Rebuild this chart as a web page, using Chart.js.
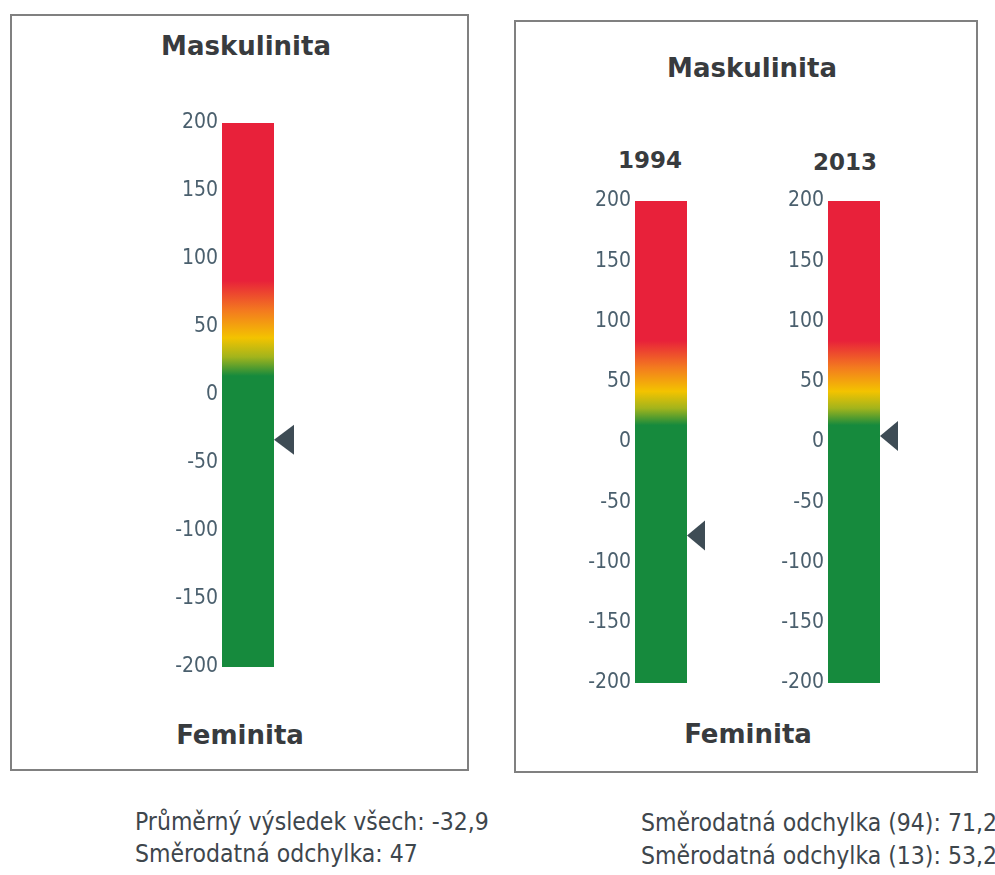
<!DOCTYPE html>
<html>
<head>
<meta charset="utf-8">
<script src="https://cdn.jsdelivr.net/npm/chart.js@4.4.1/dist/chart.umd.min.js"></script>
<style>
    html, body { margin: 0; padding: 0; overflow: hidden; background: #fff; }
    body { width: 995px; height: 875px; position: relative; }
    .panel { position: absolute; box-sizing: border-box; border: 2px solid #808080; }
    .txt { position: absolute; line-height: 1; white-space: nowrap; }
    .head { font-family: 'DejaVu Sans', sans-serif; font-weight: bold; font-size: 26px; color: #383b3e; text-align: center; }
    .year { font-family: 'DejaVu Sans', sans-serif; font-weight: bold; font-size: 23px; color: #383b3e; text-align: center; }
    .note { font-family: 'DejaVu Sans Condensed', 'DejaVu Sans', sans-serif; font-size: 24.5px; color: #3e464c; }
    canvas { position: absolute; }
</style>
</head>
<body>
<div class="panel" style="left:10px; top:14px; width:459px; height:757px;"></div>
<div class="panel" style="left:514px; top:20px; width:464px; height:753px;"></div>

<div class="txt head" style="left:146px; top:33px; width:200px;">Maskulinita</div>
<div class="txt head" style="left:140px; top:722px; width:200px;">Feminita</div>
<div class="txt head" style="left:652px; top:55px; width:200px;">Maskulinita</div>
<div class="txt head" style="left:648px; top:721px; width:200px;">Feminita</div>

<div class="txt year" id="year0" style="left:600px; top:149px; width:100px;"></div>
<div class="txt year" id="year1" style="left:795px; top:151px; width:100px;"></div>

<div class="txt note" id="note0" style="left:135px; top:810px;"></div>
<div class="txt note" id="note1" style="left:135px; top:842px;"></div>
<div class="txt note" id="note2" style="left:641px; top:811px;"></div>
<div class="txt note" id="note3" style="left:641px; top:844px;"></div>

<canvas id="gaugeAll" width="144" height="590" style="left:160px; top:100px;"></canvas>
<canvas id="gauge1994" width="144" height="528" style="left:573px; top:178px;"></canvas>
<canvas id="gauge2013" width="144" height="528" style="left:766px; top:178px;"></canvas>

<script>
// scale of the gauges
const rangeMin = -200
const rangeMax = 200
const tickStep = 50

// all respondents
const allMean = -32.9
const allStd = 47

// by year
const yearLabels = ['1994', '2013']
const yearMeans = [-77.5, 5]
const yearStd = ['71,2', '53,2']

// colour bands along the gauge (value, colour)
const bandValues = [rangeMin, 14, 28, 42, 62, 84, rangeMax]
const bandColors = ['#168a3d', '#168a3d', '#a2b41c', '#f3c300', '#f37a1f', '#e8213a', '#e8213a']

const tickColor = '#4a5f6d'
const markerColor = '#3e4c55'

document.getElementById('year0').textContent = yearLabels[0]
document.getElementById('year1').textContent = yearLabels[1]
document.getElementById('note0').textContent = 'Průměrný výsledek všech: ' + String(allMean).replace('.', ',')
document.getElementById('note1').textContent = 'Směrodatná odchylka: ' + allStd
document.getElementById('note2').textContent = 'Směrodatná odchylka (94): ' + yearStd[0]
document.getElementById('note3').textContent = 'Směrodatná odchylka (13): ' + yearStd[1]

// gradient built on the y scale so colour stops sit on real values
function gaugeGradient(context) {
    const chart = context.chart
    if (!chart.chartArea) return bandColors[0]
    const y = chart.scales.y
    const top = y.getPixelForValue(rangeMax)
    const bottom = y.getPixelForValue(rangeMin)
    const g = chart.ctx.createLinearGradient(0, bottom, 0, top)
    bandValues.forEach((v, i) => {
        g.addColorStop((v - rangeMin) / (rangeMax - rangeMin), bandColors[i])
    })
    return g
}

// triangle pointing at the mean, next to the bar
const markerPlugin = {
    id: 'meanMarker',
    afterDatasetsDraw(chart, args, opts) {
        const bar = chart.getDatasetMeta(0).data[0]
        const x = bar.x + bar.width / 2
        const y = chart.scales.y.getPixelForValue(opts.value)
        const c = chart.ctx
        c.save()
        c.fillStyle = markerColor
        c.beginPath()
        c.moveTo(x, y)
        c.lineTo(x + opts.w, y - opts.h / 2)
        c.lineTo(x + opts.w, y + opts.h / 2)
        c.closePath()
        c.fill()
        c.restore()
    }
}

function makeGauge(id, label, mean, markerW) {
    const context = document.getElementById(id).getContext('2d')
    return new Chart(context, {
        type: 'bar',
        data: {
            labels: [label],
            datasets: [{
                data: [[rangeMin, rangeMax]],
                backgroundColor: gaugeGradient,
                borderWidth: 0,
                barPercentage: 1,
                categoryPercentage: 1
            }]
        },
        options: {
            responsive: false,
            animation: false,
            devicePixelRatio: 1,
            layout: {
                padding: { top: 23, bottom: 23, left: 0, right: 30 }
            },
            plugins: {
                legend: { display: false },
                tooltip: { enabled: false },
                meanMarker: { value: mean, w: markerW, h: 30 }
            },
            scales: {
                x: { display: false },
                y: {
                    min: rangeMin,
                    max: rangeMax,
                    grid: { display: false, drawTicks: false },
                    border: { display: false },
                    afterFit(scale) { scale.width = 62 },
                    ticks: {
                        stepSize: tickStep,
                        padding: 4,
                        color: tickColor,
                        font: { family: "'DejaVu Sans Condensed', 'DejaVu Sans'", size: 21 }
                    }
                }
            }
        },
        plugins: [markerPlugin]
    })
}

makeGauge('gaugeAll', 'Všichni', allMean, 20)
makeGauge('gauge1994', yearLabels[0], yearMeans[0], 18)
makeGauge('gauge2013', yearLabels[1], yearMeans[1], 18)
</script>
</body>
</html>
